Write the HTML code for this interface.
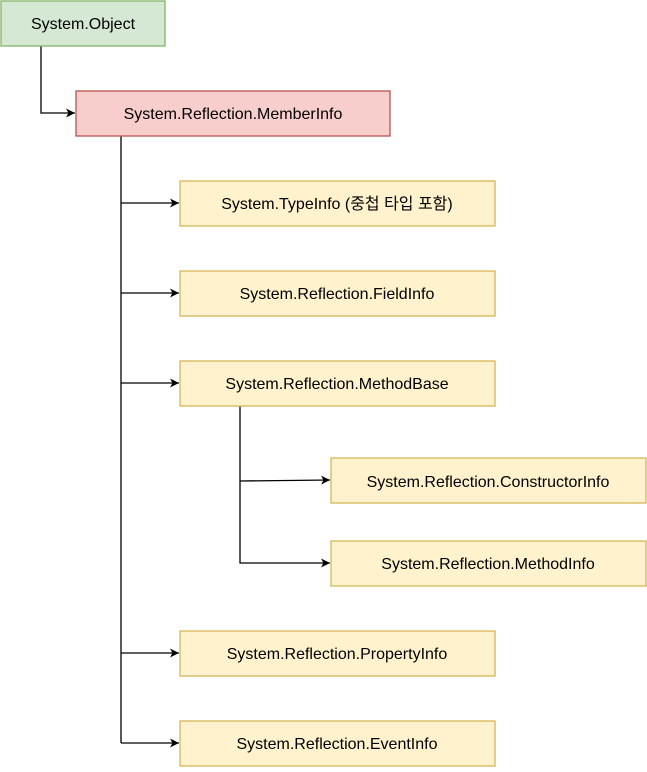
<!DOCTYPE html>
<html><head><meta charset="utf-8"><style>
html,body{margin:0;padding:0;background:#fff;}
body{width:647px;height:767px;overflow:hidden;}
</style></head><body>
<svg width="647" height="767" viewBox="0 0 647 767" xmlns="http://www.w3.org/2000/svg" font-family="Liberation Sans, 'Noto Sans CJK KR', sans-serif" font-size="16">
<defs><marker id="a" markerWidth="10" markerHeight="10" refX="9" refY="5" orient="auto" markerUnits="userSpaceOnUse"><path d="M0,0.5 L9,5 L0,9.5 L2.5,5 Z" fill="#000"/></marker></defs>
<g stroke="#000" stroke-width="1.3" fill="none">
<path d="M41,46 V113 H75" marker-end="url(#a)"/>
<path d="M121,136 V743"/>
<path d="M121,203 H179" marker-end="url(#a)"/>
<path d="M121,293 H179" marker-end="url(#a)"/>
<path d="M121,383 H179" marker-end="url(#a)"/>
<path d="M121,653 H179" marker-end="url(#a)"/>
<path d="M121,743 H179" marker-end="url(#a)"/>
<path d="M240,406 V563 H330" marker-end="url(#a)"/>
<path d="M240,481 L330,480" marker-end="url(#a)"/>
</g>
<rect x="1" y="1" width="164" height="45" fill="#d5e8d4" stroke="#82b366" stroke-width="1.3"/>
<rect x="76" y="91" width="314" height="45" fill="#f8cecc" stroke="#b85450" stroke-width="1.3"/>
<g fill="#fff2cc" stroke="#d6b656" stroke-width="1.3">
<rect x="180" y="181" width="315" height="45"/>
<rect x="180" y="271" width="315" height="45"/>
<rect x="180" y="361" width="315" height="45"/>
<rect x="331" y="458" width="315" height="45"/>
<rect x="331" y="541" width="315" height="45"/>
<rect x="180" y="631" width="315" height="45"/>
<rect x="180" y="721" width="315" height="45"/>
</g>
<g fill="#000" text-anchor="middle">
<text x="83" y="29">System.Object</text>
<text x="233" y="119">System.Reflection.MemberInfo</text>
<text x="337" y="209">System.TypeInfo (중첩 타입 포함)</text>
<text x="337" y="299">System.Reflection.FieldInfo</text>
<text x="337" y="389">System.Reflection.MethodBase</text>
<text x="488" y="487">System.Reflection.ConstructorInfo</text>
<text x="488" y="569">System.Reflection.MethodInfo</text>
<text x="337" y="659">System.Reflection.PropertyInfo</text>
<text x="337" y="749">System.Reflection.EventInfo</text>
</g>
</svg>
</body></html>
